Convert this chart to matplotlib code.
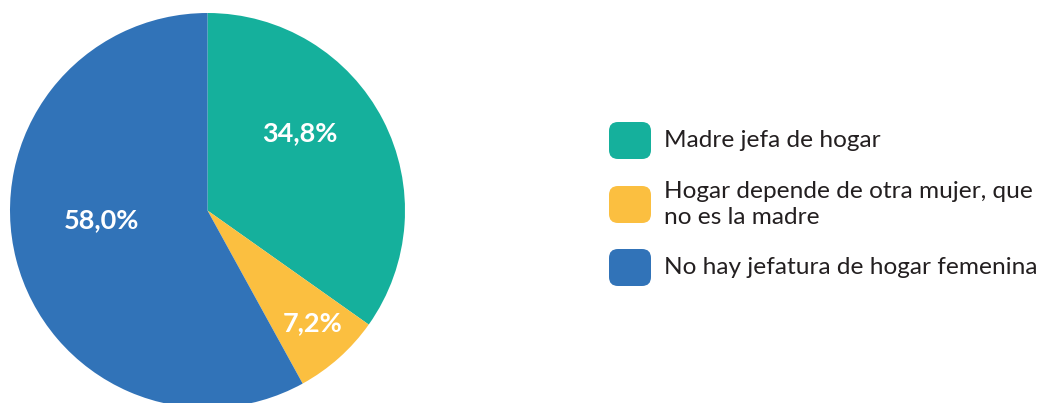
import matplotlib.pyplot as plt
import numpy as np
from matplotlib.patches import FancyBboxPatch
from matplotlib import font_manager

# DATA
labels = [
    "Madre jefa de hogar",
    "Hogar depende de otra mujer, que\nno es la madre",
    "No hay jefatura de hogar femenina",
]
values = [34.8, 7.2, 58.0]
pct_text = ["34,8%", "7,2%", "58,0%"]
colors = ["#15B09C", "#FBBF40", "#3173B8"]

# font
names = {f.name for f in font_manager.fontManager.ttflist}
FONT = "Liberation Sans Narrow" if "Liberation Sans Narrow" in names else "Lato"
plt.rcParams["font.family"] = [FONT, "DejaVu Sans"]

W, H = 1058, 403
fig = plt.figure(figsize=(W / 100, H / 100), dpi=100)

# PIE (center 207.5, 210.5 px from top, radius 197.5 px)
cx, cy, r = 207.5, 210.5, 197.5
ax = fig.add_axes([(cx - r) / W, (H - cy - r) / H, 2 * r / W, 2 * r / H])
wedges, _ = ax.pie(
    values,
    colors=colors,
    startangle=90,
    counterclock=False,
    radius=1.0,
    wedgeprops=dict(linewidth=0),
)
ax.set_xlim(-1, 1)
ax.set_ylim(-1, 1)
ax.set_aspect("equal")
ax.set_axis_off()

# label placement: (distance, angle offset in deg) relative to wedge middle
label_place = [(0.61, 12.5), (0.78, 1.3), (0.54, -9.3)]
for w, txt, (dist, off) in zip(wedges, pct_text, label_place):
    mid = np.deg2rad((w.theta1 + w.theta2) / 2 + off)
    ax.text(dist * np.cos(mid), dist * np.sin(mid), txt,
            ha="center", va="center", color="white",
            fontsize=19.5, fontweight="bold")

# LEGEND (overlay axes in pixel coords)
lax = fig.add_axes([0, 0, 1, 1])
lax.set_xlim(0, W)
lax.set_ylim(H, 0)
lax.set_axis_off()

box_x, box_w, box_h = 609, 42, 37
row_y = [140.5, 204.5, 267.5]
for y, col, lab in zip(row_y, colors, labels):
    lax.add_patch(FancyBboxPatch(
        (box_x, y - box_h / 2), box_w, box_h,
        boxstyle="round,pad=0,rounding_size=9",
        facecolor=col, edgecolor="none"))
    lax.text(664, y, lab, ha="left", va="center", fontsize=17.6,
             color="#231F20", linespacing=1.32)

fig.savefig("out.png", dpi=100)
